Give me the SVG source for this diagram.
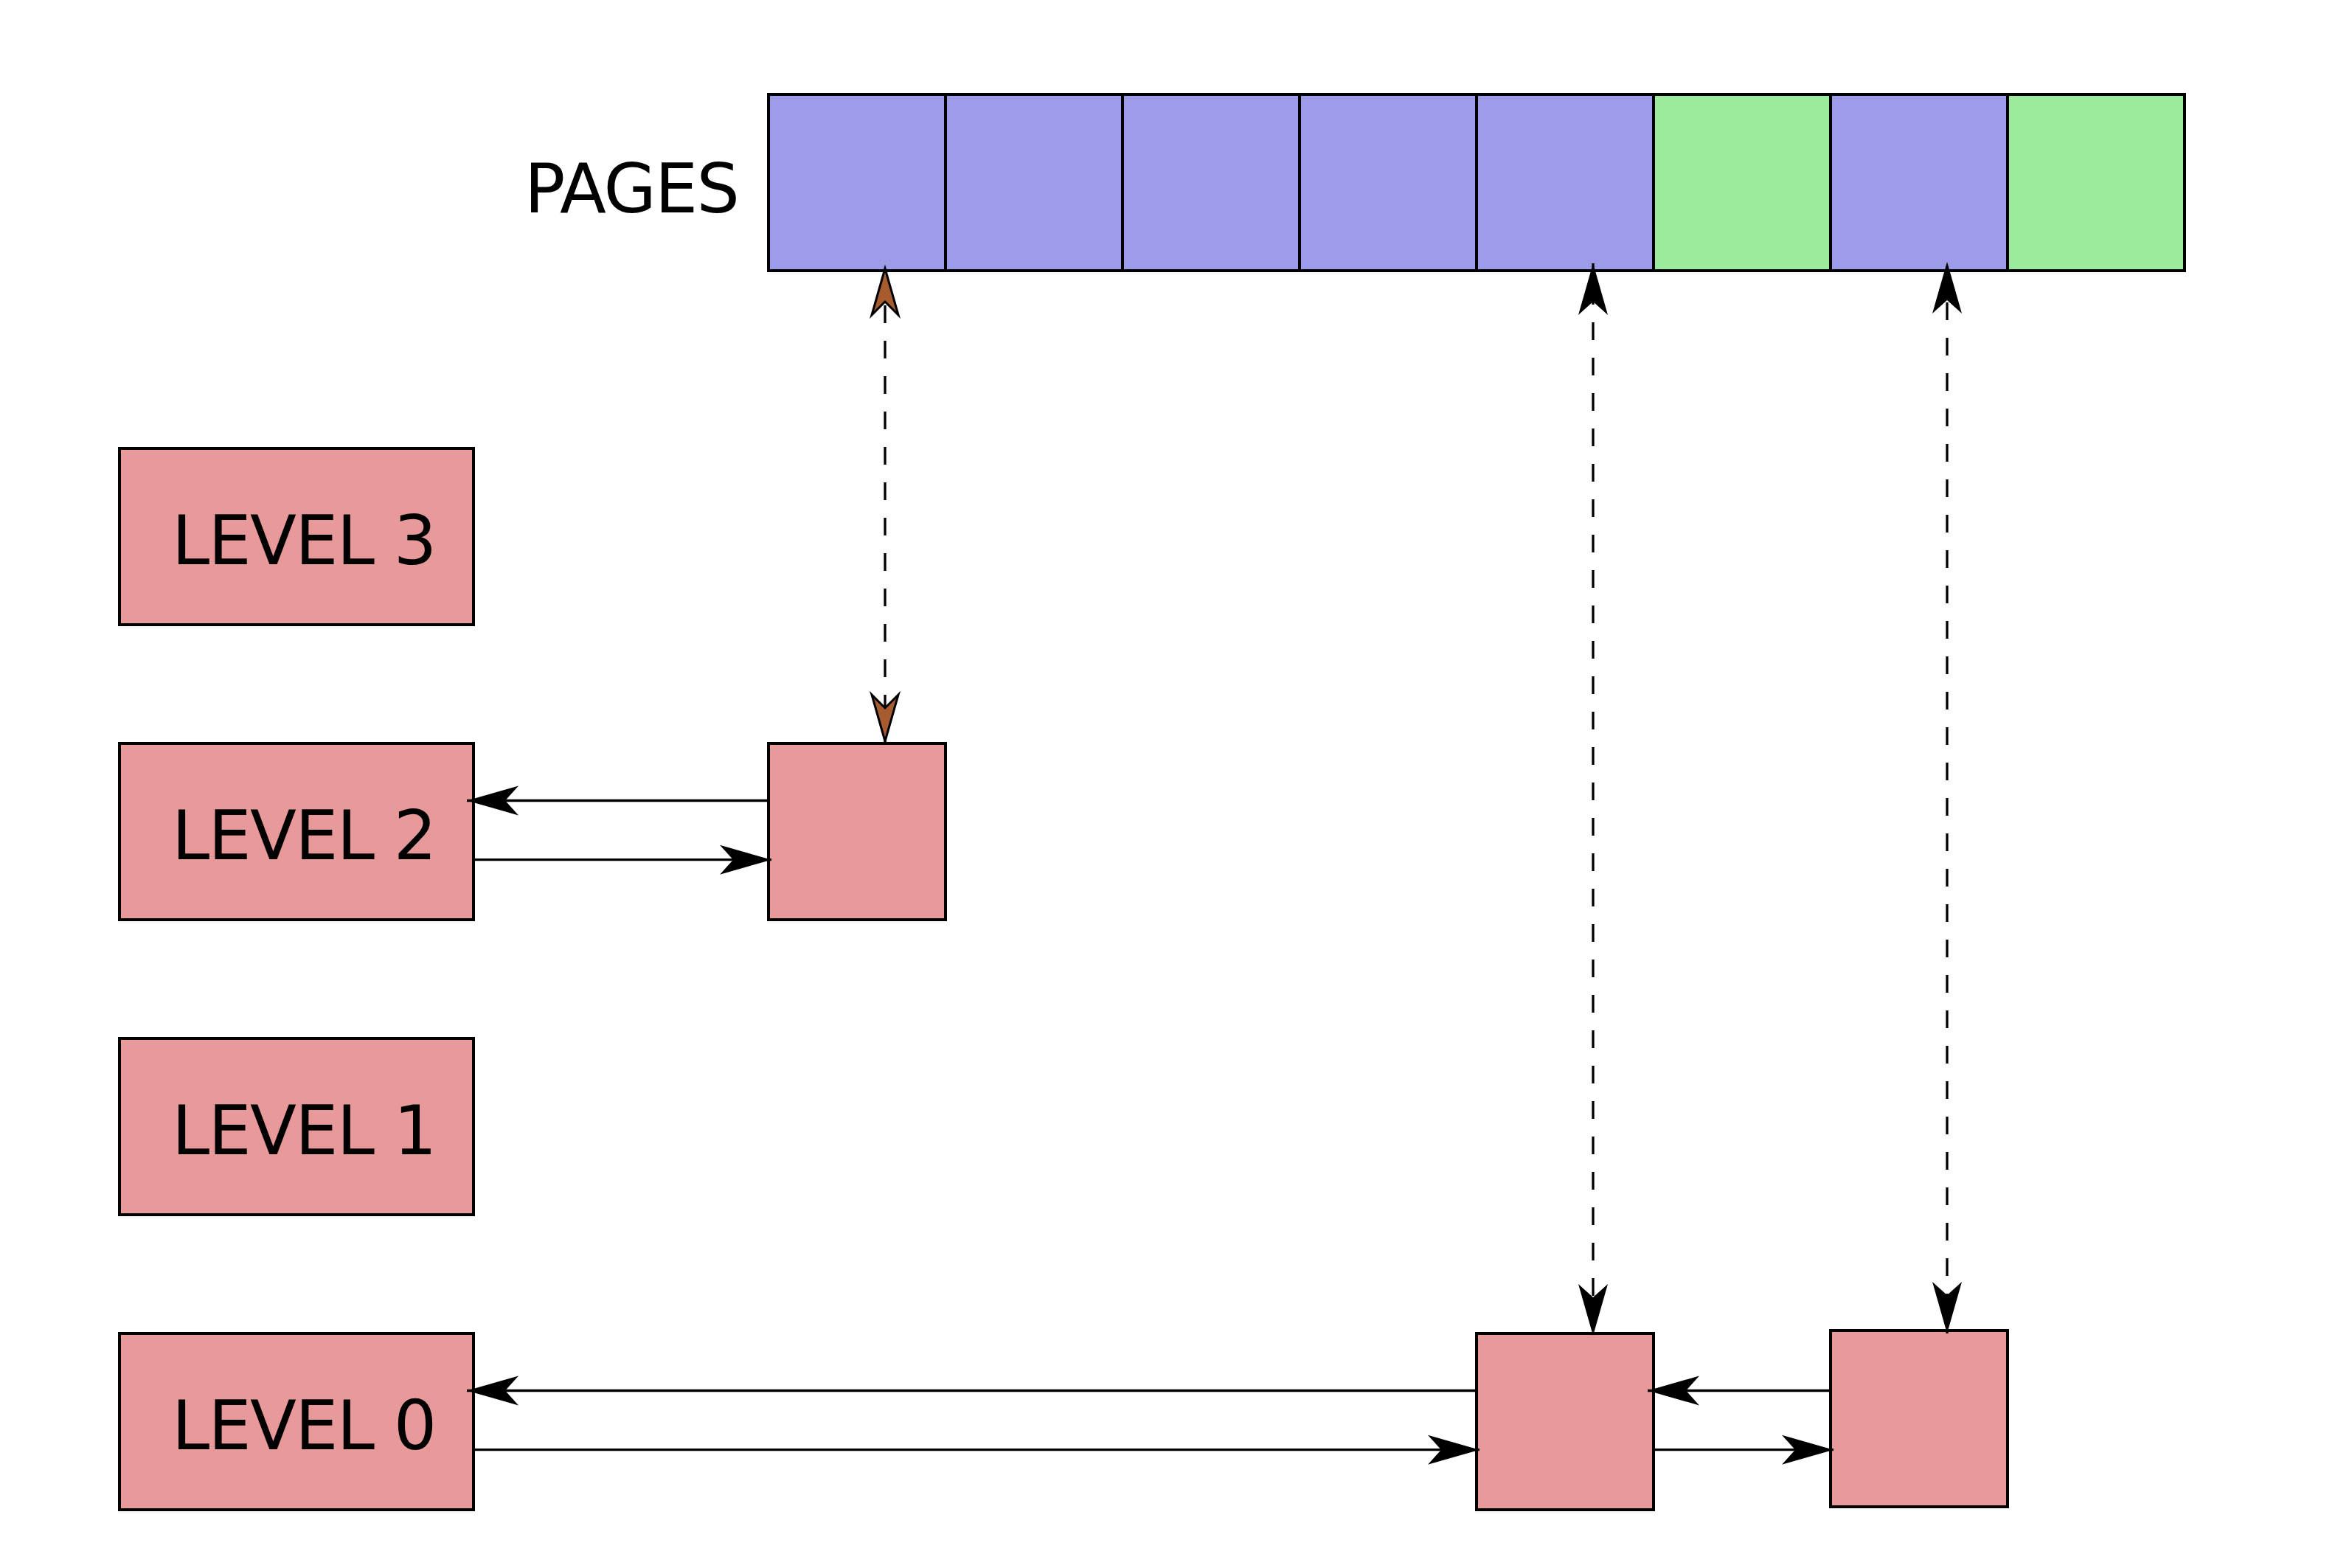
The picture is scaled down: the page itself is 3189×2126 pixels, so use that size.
<svg xmlns="http://www.w3.org/2000/svg" width="3189" height="2126" viewBox="0 0 3189 2126">
  <style>
    .box { stroke: #000; stroke-width: 4; }
    .level { fill: #e89a9a; }
    .used { fill: #9c9ce8; }
    .free { fill: #9cea9c; }
    .label { font-family: "DejaVu Sans", "Liberation Sans", sans-serif; font-size: 92px; letter-spacing: -1.7px; fill: #000; }
    .link { stroke: #000; stroke-width: 3.3; fill: none; }
    .map { stroke: #000; stroke-width: 3.3; fill: none; stroke-dasharray: 24 24; }
  </style>
  <defs>
    <marker id="head" viewBox="-72 -22 74 44" refX="0" refY="0" markerWidth="74" markerHeight="44" markerUnits="userSpaceOnUse" orient="auto-start-reverse" overflow="visible">
      <path d="M0,0 L-70,-20 L-52,0 L-70,20 Z" fill="#000"/>
    </marker>
    <marker id="head-brown" viewBox="-72 -22 74 44" refX="0" refY="0" markerWidth="74" markerHeight="44" markerUnits="userSpaceOnUse" orient="auto-start-reverse" overflow="visible">
      <path d="M-5,0 L-68,-18 L-50,0 L-68,18 Z" fill="#a65c2e" stroke="#000" stroke-width="3"/>
    </marker>
  </defs>
  <rect width="3189" height="2126" fill="#fff"/>

  <!-- page strip -->
  <g id="pages">
    <text class="label" x="711" y="288">PAGES</text>
    <rect class="box used" x="1042" y="128" width="240" height="239"/>
    <rect class="box used" x="1282" y="128" width="240" height="239"/>
    <rect class="box used" x="1522" y="128" width="240" height="239"/>
    <rect class="box used" x="1762" y="128" width="240" height="239"/>
    <rect class="box used" x="2002" y="128" width="240" height="239"/>
    <rect class="box free" x="2242" y="128" width="240" height="239"/>
    <rect class="box used" x="2482" y="128" width="240" height="239"/>
    <rect class="box free" x="2722" y="128" width="240" height="239"/>
  </g>

  <!-- level heads -->
  <g id="level3">
    <rect class="box level" x="162" y="608" width="480" height="239"/>
    <text class="label" x="233" y="765">LEVEL 3</text>
  </g>
  <g id="level2">
    <rect class="box level" x="162" y="1008" width="480" height="239"/>
    <text class="label" x="233" y="1165">LEVEL 2</text>
  </g>
  <g id="level1">
    <rect class="box level" x="162" y="1408" width="480" height="239"/>
    <text class="label" x="233" y="1565">LEVEL 1</text>
  </g>
  <g id="level0">
    <rect class="box level" x="162" y="1808" width="480" height="239"/>
    <text class="label" x="233" y="1965">LEVEL 0</text>
  </g>

  <!-- list entries -->
  <g id="entry-l2">
    <rect class="box level" x="1042" y="1008" width="240" height="239"/>
  </g>
  <g id="entry-l0a">
    <rect class="box level" x="2002" y="1808" width="240" height="239"/>
  </g>
  <g id="entry-l0b">
    <rect class="box level" x="2482" y="1804" width="240" height="239"/>
  </g>

  <!-- connectors -->
  <g id="connectors">
    <line class="link" x1="1042" y1="1085.5" x2="633" y2="1085.5" marker-end="url(#head)"/>
    <line class="link" x1="642" y1="1165.7" x2="1046" y2="1165.7" marker-end="url(#head)"/>
    <line class="link" x1="2002" y1="1885.5" x2="633" y2="1885.5" marker-end="url(#head)"/>
    <line class="link" x1="642" y1="1965.7" x2="2006" y2="1965.7" marker-end="url(#head)"/>
    <line class="link" x1="2482" y1="1885.5" x2="2234" y2="1885.5" marker-end="url(#head)"/>
    <line class="link" x1="2242" y1="1965.7" x2="2486" y2="1965.7" marker-end="url(#head)"/>

    <line class="map" x1="1200" y1="359" x2="1200" y2="1010" stroke-dashoffset="41" marker-start="url(#head-brown)" marker-end="url(#head-brown)"/>
    <line class="map" x1="2160" y1="357" x2="2160" y2="1811" stroke-dashoffset="16" marker-start="url(#head)" marker-end="url(#head)"/>
    <line class="map" x1="2640" y1="355" x2="2640" y2="1808" stroke-dashoffset="41" marker-start="url(#head)" marker-end="url(#head)"/>
  </g>
</svg>
